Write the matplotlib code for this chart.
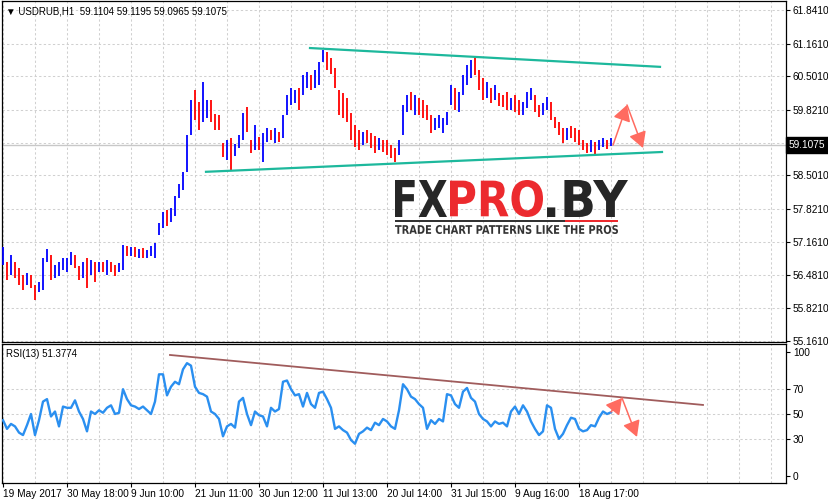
# -*- coding: utf-8 -*-
"""
USDRUB H1 grafiği: fiyat çubukları + RSI(13), MT4 görünümü.
"""
import matplotlib
matplotlib.use("Agg")
import matplotlib.pyplot as plt
from matplotlib.textpath import TextPath
from matplotlib.patches import PathPatch, Rectangle
from matplotlib.font_manager import FontProperties
from matplotlib.transforms import Affine2D, blended_transform_factory

plt.rcParams['font.family'] = ['Liberation Sans', 'DejaVu Sans']

# --- veriler (çubuk başına: en yüksek, en düşük, kapanış) ---
highs = [57.05, 56.75, 56.89, 56.75, 56.63, 56.49, 56.53, 56.49, 56.28, 56.34,
         56.83, 57.01, 56.89, 56.69, 56.75, 56.83, 56.83, 56.95, 56.89, 56.67,
         56.75, 56.83, 56.79, 56.75, 56.75, 56.75, 56.79, 56.75, 56.69, 56.73,
         57.09, 57.07, 57.05, 57.05, 57.01, 57.03, 56.99, 57.07, 57.13, 57.54,
         57.76, 57.80, 57.84, 58.08, 58.32, 58.57, 59.31, 60.02, 60.22, 59.98,
         60.38, 60.02, 60.02, 59.74, 59.72, 59.15, 59.21, 59.25, 59.13, 59.31,
         59.76, 59.88, 59.21, 59.51, 59.27, 59.35, 59.45, 59.41, 59.45, 59.37,
         59.72, 60.12, 60.26, 60.22, 60.26, 60.52, 60.59, 60.52, 60.63, 60.79,
         61.03, 60.99, 60.87, 60.67, 60.22, 60.16, 60.06, 59.76, 59.51, 59.41,
         59.37, 59.41, 59.35, 59.29, 59.25, 59.21, 59.21, 59.11, 59.05, 59.21,
         59.92, 60.12, 60.18, 60.12, 60.06, 60.02, 59.92, 59.72, 59.66, 59.72,
         59.66, 59.78, 60.32, 60.26, 60.18, 60.52, 60.73, 60.83, 60.87, 60.63,
         60.46, 60.38, 60.26, 60.32, 60.16, 60.12, 60.18, 60.06, 60.12, 60.02,
         59.98, 60.18, 60.26, 60.12, 59.92, 59.96, 60.08, 59.98, 59.68, 59.58,
         59.45, 59.45, 59.49, 59.45, 59.41, 59.21, 59.15, 59.21, 59.17, 59.21,
         59.25, 59.21, 59.25]
lows = [56.69, 56.38, 56.49, 56.42, 56.28, 56.18, 56.28, 56.22, 55.98, 56.14,
        56.18, 56.75, 56.38, 56.42, 56.47, 56.59, 56.55, 56.69, 56.63, 56.38,
        56.42, 56.22, 56.49, 56.34, 56.55, 56.55, 56.49, 56.55, 56.47, 56.55,
        56.59, 56.87, 56.87, 56.85, 56.83, 56.83, 56.83, 56.87, 56.83, 57.29,
        57.43, 57.47, 57.56, 57.68, 58.04, 58.20, 58.57, 59.31, 59.62, 59.41,
        59.58, 59.66, 59.58, 59.41, 59.41, 58.87, 58.81, 58.61, 58.89, 59.05,
        59.21, 59.37, 58.95, 59.01, 59.01, 58.77, 59.17, 59.21, 59.15, 59.17,
        59.25, 59.72, 59.92, 59.96, 59.82, 60.12, 60.26, 60.22, 60.26, 60.32,
        60.79, 60.63, 60.55, 60.26, 59.72, 59.66, 59.58, 59.21, 59.07, 59.01,
        59.11, 59.15, 59.05, 58.95, 59.01, 58.97, 58.91, 58.85, 58.77, 58.91,
        59.31, 59.78, 59.82, 59.72, 59.72, 59.66, 59.62, 59.35, 59.41, 59.45,
        59.35, 59.51, 59.92, 59.82, 59.78, 60.12, 60.32, 60.46, 60.52, 60.22,
        60.02, 60.06, 59.96, 60.02, 59.90, 59.88, 59.82, 59.82, 59.78, 59.72,
        59.72, 59.86, 60.02, 59.78, 59.68, 59.72, 59.82, 59.62, 59.45, 59.31,
        59.15, 59.21, 59.25, 59.17, 59.11, 59.01, 58.95, 58.97, 58.91, 59.01,
        59.07, 59.03, 59.09]
closes = [56.90, 56.50, 56.80, 56.55, 56.35, 56.25, 56.45, 56.30, 56.05, 56.20,
          56.75, 56.85, 56.50, 56.55, 56.60, 56.70, 56.75, 56.90, 56.70, 56.50,
          56.60, 56.40, 56.70, 56.55, 56.70, 56.65, 56.70, 56.60, 56.55, 56.60,
          57.00, 56.95, 57.00, 56.90, 56.95, 56.90, 56.95, 57.00, 57.10, 57.45,
          57.60, 57.55, 57.75, 58.00, 58.25, 58.50, 59.20, 59.90, 59.70, 59.50,
          59.90, 59.95, 59.70, 59.55, 59.45, 58.95, 59.10, 59.00, 59.00, 59.20,
          59.60, 59.50, 59.05, 59.35, 59.15, 59.30, 59.35, 59.30, 59.40, 59.25,
          59.65, 60.00, 60.10, 60.10, 59.90, 60.40, 60.50, 60.30, 60.55, 60.75,
          60.85, 60.70, 60.65, 60.40, 59.90, 59.80, 59.75, 59.35, 59.20, 59.15,
          59.30, 59.25, 59.20, 59.05, 59.10, 59.05, 59.00, 58.95, 58.85, 59.10,
          59.80, 60.00, 59.95, 60.00, 59.85, 59.80, 59.70, 59.45, 59.50, 59.55,
          59.60, 59.70, 60.15, 59.95, 60.00, 60.45, 60.60, 60.70, 60.60, 60.30,
          60.15, 60.25, 60.05, 60.20, 60.00, 59.95, 59.90, 59.95, 59.85, 59.80,
          59.90, 60.10, 60.15, 59.85, 59.75, 59.85, 60.00, 59.70, 59.50, 59.40,
          59.30, 59.35, 59.30, 59.25, 59.15, 59.05, 59.00, 59.10, 58.95, 59.15,
          59.20, 59.10, 59.11]
first_open = 56.75

# RSI(13) değerleri
rsi = [45, 38, 42, 40, 35, 33, 41, 50, 33, 45,
       60, 62, 48, 52, 40, 56, 55, 55, 61, 52,
       46, 36, 52, 50, 53, 51, 55, 57, 50, 51,
       70, 62, 57, 56, 54, 56, 53, 50, 60, 82,
       82, 65, 72, 76, 74, 86, 91, 89, 72, 67,
       66, 64, 52, 50, 46, 32, 40, 42, 39, 60,
       63, 50, 41, 52, 49, 48, 40, 55, 52, 54,
       76, 77, 70, 65, 66, 56, 67, 58, 55, 67,
       68, 62, 55, 38, 40, 37, 35, 29, 26, 34,
       36, 39, 37, 43, 41, 46, 44, 40, 38, 53,
       74, 70, 64, 62, 58, 55, 38, 45, 42, 46,
       44, 66, 65, 58, 55, 68, 71, 63, 60, 50,
       46, 44, 40, 44, 42, 43, 40, 52, 56, 50,
       57, 52, 44, 38, 33, 36, 57, 55, 38, 30,
       34, 41, 47, 46, 38, 36, 37, 41, 40, 47,
       52, 50, 51.38]

# eksen etiketleri
price_ticks = [61.841, 61.161, 60.501, 59.821, 59.161, 58.501, 57.821, 57.161, 56.481, 55.821, 55.161]
rsi_ticks = [100, 70, 50, 30, 0]
date_pos = [0, 16, 32, 48, 64, 80, 96, 112, 128, 144]
date_labels = ["19 May 2017", "30 May 18:00", "9 Jun 10:00", "21 Jun 11:00", "30 Jun 12:00",
               "11 Jul 13:00", "20 Jul 14:00", "31 Jul 15:00", "9 Aug 16:00", "18 Aug 17:00"]
last_price = 59.1075

# trend çizgileri ve oklar (çubuk indeksi, değer)
upper_line = ([76.75, 164.25], [61.07, 60.69])
lower_line = ([50.75, 164.75], [58.57, 58.97])
price_arrow = ([152.5, 156.0, 160.0], [59.11, 59.92, 59.05])
rsi_line = ([41.75, 175.0], [97.6, 57.3])
rsi_arrow = ([152.0, 154.75, 158.5], [51.6, 62.9, 31.5])

W, H = 829, 504
fig = plt.figure(figsize=(W / 100, H / 100), dpi=100)
ax = fig.add_axes([2 / W, (H - 342) / H, 784 / W, 341 / H])
ax2 = fig.add_axes([2 / W, (H - 483) / H, 784 / W, 139 / H])

grid_kw = dict(color='#d0d0d0', lw=0.75, dashes=(2.2, 2.2))
xlim = (-0.25, 195.75)

# fiyat çubukları
x = list(range(len(closes)))
opens = [first_open] + closes[:-1]
cols = ['#0000ff' if c >= o else '#ff0000' for o, c in zip(opens, closes)]
ax.vlines(x, lows, highs, colors=cols, lw=1.3, zorder=3)

ax.axhline(last_price, color='#c8c8c8', lw=1.0, zorder=2)
ax.plot(*upper_line, color='#1db89c', lw=1.6, zorder=4)
ax.plot(*lower_line, color='#1db89c', lw=1.6, zorder=4)

arrow_kw = dict(arrowstyle='-|>,head_length=0.8,head_width=0.45', color='#ff6b60', lw=1.1,
                mutation_scale=12, shrinkA=0, shrinkB=0)
for k in range(2):
    ax.annotate('', xy=(price_arrow[0][k + 1], price_arrow[1][k + 1]),
                xytext=(price_arrow[0][k], price_arrow[1][k]), arrowprops=arrow_kw, zorder=5)
    ax2.annotate('', xy=(rsi_arrow[0][k + 1], rsi_arrow[1][k + 1]),
                 xytext=(rsi_arrow[0][k], rsi_arrow[1][k]), arrowprops=arrow_kw, zorder=5)

ax.set_xlim(*xlim)
ax.set_ylim(55.132, 62.02)
ax.set_yticks(price_ticks)
# 59.1610 etiketi güncel fiyat kutusunun altında kalıyor
ax.set_yticklabels(["" if p == 59.161 else "%.4f" % p for p in price_ticks])
ax.set_xticks(range(0, 196, 8))
ax.tick_params(axis='x', length=0, labelbottom=False)
ax.grid(True, **grid_kw)
ax.set_axisbelow(True)

# güncel fiyat kutusu
tr = blended_transform_factory(ax.transAxes, ax.transData)
ax.text(1.0 + 3 / 784, last_price, "%.4f" % last_price, transform=tr, color='white', fontsize=7.3,
        ha='left', va='center', zorder=10, clip_on=False,
        bbox=dict(boxstyle='square,pad=0.3', fc='black', ec='black'))

# RSI paneli
ax2.plot(x, rsi, color='#2a8ff0', lw=1.7, zorder=3)
ax2.plot(*rsi_line, color='#a05c5c', lw=1.3, zorder=4)
ax2.set_xlim(*xlim)
ax2.set_ylim(-5.65, 106.45)
ax2.set_yticks(rsi_ticks)
ax2.set_yticklabels([str(v) for v in rsi_ticks])
for v in [70, 50, 30]:
    ax2.axhline(v, zorder=1, **grid_kw)
for g in range(0, 196, 8):
    ax2.axvline(g, zorder=1, **grid_kw)
ax2.set_xticks(date_pos)
ax2.set_xticklabels(date_labels)
for lab in ax2.get_xticklabels():
    lab.set_ha('left')

for a in (ax, ax2):
    a.yaxis.tick_right()
    a.tick_params(axis='y', length=3, width=0.8, pad=2, labelsize=7.3, colors='black')
    for s in a.spines.values():
        s.set_linewidth(0.9)
ax2.tick_params(axis='x', length=3, width=0.8, pad=1.5, labelsize=7.3)

fig.text(6 / W, 1 - 11 / H, "\u25bc USDRUB,H1  59.1104 59.1195 59.0965 59.1075", fontsize=7,
         va='center', ha='left')
fig.text(6 / W, 1 - 354 / H, "RSI(13) 51.3774", fontsize=7, va='center', ha='left')


# logo: metin yollarını verilen piksel kutusuna sığdır
def kutuya_yaz(s, x0, x1, ytop, ybot, color):
    tp = TextPath((0, 0), s, size=10, prop=FontProperties(family='DejaVu Sans', weight='bold'))
    bb = tp.get_extents()
    t = Affine2D().translate(-bb.x0, -bb.y0).scale((x1 - x0) / bb.width, (ybot - ytop) / bb.height)
    t = t.translate(x0, H - ybot)
    fig.add_artist(PathPatch(tp, transform=t, fc=color, ec='none', zorder=1))


kutuya_yaz("FX", 395, 447, 180, 217, '#262626')
kutuya_yaz("PRO", 450, 543, 180, 217, '#ec2a2e')
kutuya_yaz(".BY", 547, 628, 180, 217, '#262626')
kutuya_yaz("TRADE CHART PATTERNS LIKE THE PROS", 395, 618, 225, 234, '#333333')
fig.add_artist(Rectangle((395, H - 222), 170, 2, transform=Affine2D(), fc='#333333', ec='none'))
fig.add_artist(Rectangle((565, H - 222), 53, 2, transform=Affine2D(), fc='#ec2a2e', ec='none'))

fig.savefig("out.png", dpi=100)
